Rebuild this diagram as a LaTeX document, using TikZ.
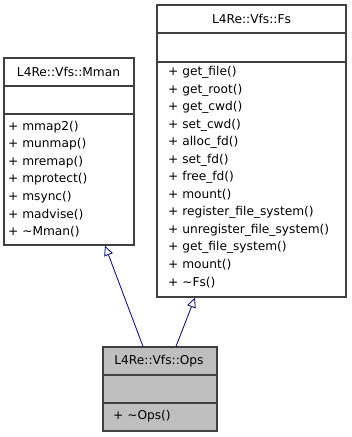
\documentclass[tikz,border=0pt]{standalone}
\usepackage{fontspec}
\setmainfont{DejaVu Sans}
\usetikzlibrary{arrows.meta}
\definecolor{edgeblue}{HTML}{191970}
\definecolor{boxline}{HTML}{404040}
\definecolor{opsfill}{HTML}{BFBFBF}
\tikzset{
  classbox/.style={draw=boxline, line width=1.1pt, fill=white, inner sep=0pt, rectangle},
  sepline/.style={draw=boxline, line width=1.1pt},
  member/.style={anchor=west, inner sep=0pt, font=\fontsize{12.2}{14}\selectfont},
  title/.style={inner sep=0pt, font=\fontsize{12.2}{14}\selectfont},
  inherit/.style={draw=edgeblue, line width=0.9pt,
    -{Triangle[open, length=10pt, width=9pt, fill=white]}}
}
\begin{document}
\begin{tikzpicture}[x=1pt, y=-1pt]
\useasboundingbox (0,0) rectangle (352,437);

% class boxes
\node[classbox, minimum width=130pt, minimum height=187pt] (mman) at (69,151.5) {};
\node[classbox, minimum width=189pt, minimum height=292pt] (fs) at (251.5,151) {};
\node[classbox, fill=opsfill, minimum width=114pt, minimum height=84pt] (ops) at (160,389) {};

% compartment separators
\draw[sepline] (4,86) -- (134,86);
\draw[sepline] (4,114) -- (134,114);
\draw[sepline] (157,33) -- (346,33);
\draw[sepline] (157,62) -- (346,62);
\draw[sepline] (103,375) -- (217,375);
\draw[sepline] (103,403) -- (217,403);

% class names
\node[title] (mmanname) at (68.5,72) {L4Re::Vfs::Mman};
\node[title] (fsname) at (251.5,19) {L4Re::Vfs::Fs};
\node[title] (opsname) at (159,361) {L4Re::Vfs::Ops};

% Mman operations
\foreach \txt [count=\i from 0] in {mmap2(), munmap(), mremap(), mprotect(), msync(), madvise(), \textasciitilde Mman()}
  \node[member] (mm\i) at (8,127+17.5*\i) {+ \txt};

% Fs operations
\foreach \txt [count=\i from 0] in {get\_file(), get\_root(), get\_cwd(), set\_cwd(), alloc\_fd(), set\_fd(), free\_fd(), mount(), register\_file\_system(), unregister\_file\_system(), get\_file\_system(), mount(), \textasciitilde Fs()}
  \node[member] (fs\i) at (168,72.5+17.5*\i) {+ \txt};

% Ops operations
\node[member] (op0) at (113,416.5) {+ \textasciitilde Ops()};

% inheritance
\draw[inherit] ([xshift=-17pt]ops.north) -- ([xshift=36pt]mman.south);
\draw[inherit] ([xshift=16pt]ops.north) -- ([xshift=-56.5pt]fs.south);
\end{tikzpicture}
\end{document}
